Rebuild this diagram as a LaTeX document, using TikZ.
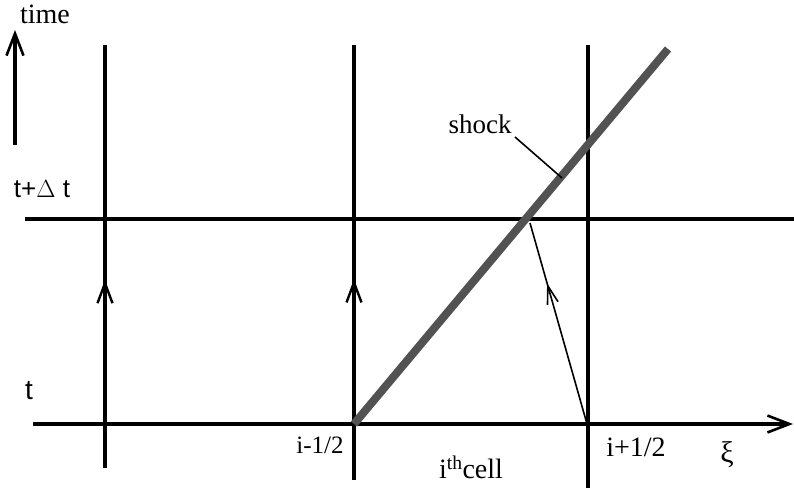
\documentclass[tikz,border=0pt]{standalone}
\usepackage{fontspec}
\setmainfont{Liberation Serif}
\newfontfamily\lsans{Liberation Sans}
\usetikzlibrary{arrows.meta,decorations.markings}
\begin{document}
\begin{tikzpicture}[x=1pt,y=-1pt,
  grid/.style={line width=3.3pt,black},
  barb/.style={-{Straight Barb[length=22pt,width=17pt,line width=2.6pt]}},
  midbarb/.style={postaction={decorate},decoration={markings,
     mark=at position #1 with {\arrow{Straight Barb[length=20pt,width=15pt,line width=2.4pt]}}}},
  thinbarb/.style={postaction={decorate},decoration={markings,
     mark=at position #1 with {\arrow{Straight Barb[length=18pt,width=11pt,line width=1.6pt]}}}},
  lbl/.style={font=\fontsize{27}{31}\selectfont, inner sep=0pt},
  shockline/.style={line width=8pt,black!68}
]
\useasboundingbox (0,0) rectangle (794,492);
% coordinates
\coordinate (tb) at (15,145);
\coordinate (tt) at (15,30);
\coordinate (hl1) at (25,219);
\coordinate (hr1) at (794,219);
\coordinate (hl0) at (33,424);
\coordinate (hr0) at (793,424);
\coordinate (v1t) at (105,45);
\coordinate (v1b) at (105,468);
\coordinate (v2t) at (354,45);
\coordinate (v2b) at (354,480);
\coordinate (v3t) at (588,45);
\coordinate (v3b) at (588,488);
\coordinate (s0) at (354,424);
\coordinate (s1) at (668,49);
\coordinate (cross) at (530,223);
\coordinate (foot) at (587,424);
\coordinate (ld0) at (515,137);
\coordinate (ld1) at (562,178);
% time axis
\draw[line width=3.3pt,barb] (tb) -- (tt);
% grid lines
\draw[grid] (hl1) -- (hr1);
\draw[grid,barb] (hl0) -- (hr0);
\draw[grid,midbarb=0.445] (v1b) -- (v1t);
\draw[grid,midbarb=0.462] (v2b) -- (v2t);
\draw[grid] (v3b) -- (v3t);
% shock
\draw[shockline] (s0) -- (s1);
% characteristic
\draw[line width=1.6pt,thinbarb=0.70] (foot) -- (cross);
% leader
\draw[line width=1.6pt] (ld0) -- (ld1);
% labels
\node[lbl,font=\fontsize{28}{32}\selectfont] (time) at (45,14) {time};
\node[lbl,font=\lsans\fontsize{26}{30}\selectfont] (tdt) at (42,189) {t+$\Delta$ t};
\node[lbl,font=\lsans\fontsize{28}{32}\selectfont] (t) at (29,391) {t};
\node[lbl] (shock) at (480,124) {shock};
\node[lbl,font=\fontsize{25}{29}\selectfont] (im) at (320,445) {i-1/2};
\node[lbl,font=\fontsize{28}{32}\selectfont] (ip) at (636,447) {i+1/2};
\node[lbl,font=\fontsize{30}{34}\selectfont] (xi) at (727,455) {ξ};
\node[lbl,font=\fontsize{28}{32}\selectfont] (cell) at (471,467) {i\textsuperscript{th}cell};
\end{tikzpicture}
\end{document}
